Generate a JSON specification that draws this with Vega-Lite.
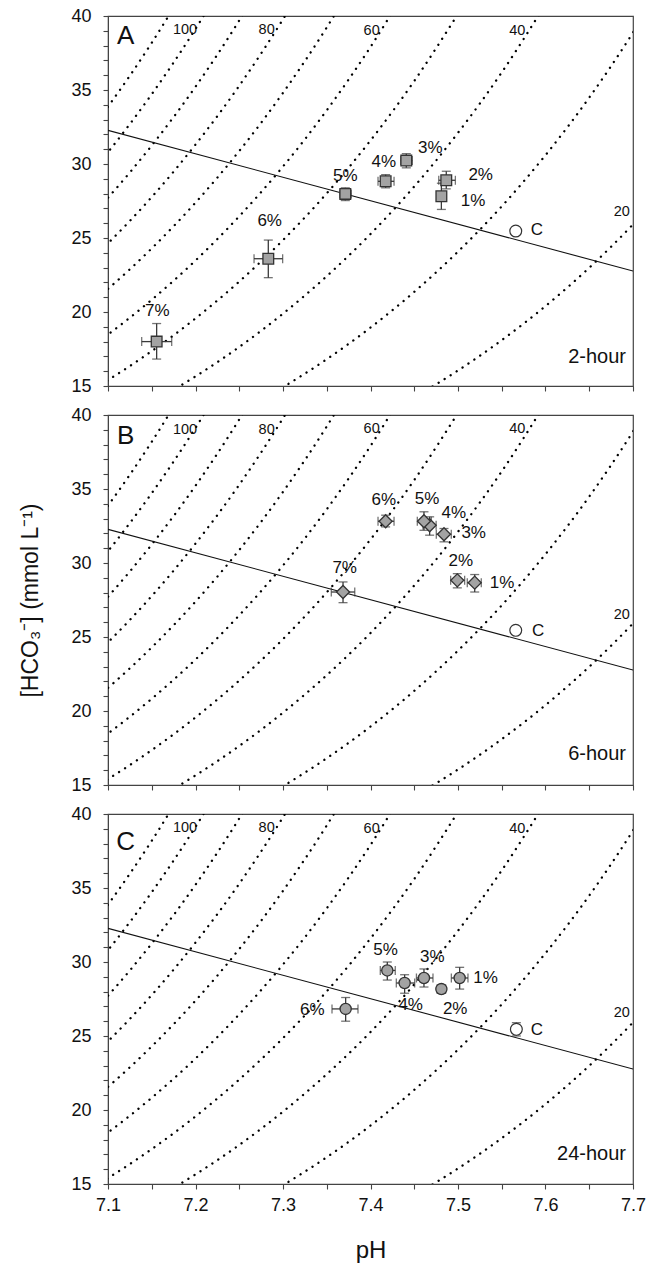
{
  "$schema": "https://vega.github.io/schema/vega-lite/v6.json",
  "padding": {"left": 19, "top": 6, "right": 10, "bottom": 0},
  "config": {
    "font": "Liberation Sans",
    "view": {"stroke": "#444", "strokeWidth": 1.2},
    "axis": {"domainColor": "#444", "tickColor": "#444", "labelColor": "#111", "titleColor": "#111", "grid": false, "titleFontWeight": "normal", "labelFlush": false, "tickWidth": 1.1},
    "text": {"color": "#111"}
  },
  "spacing": 29,
  "bounds": "flush",
  "datasets": {
    "iso": [
      {"p": 110, "pH": 7.05, "h": 30.06}, {"p": 110, "pH": 7.1, "h": 33.88}, {"p": 110, "pH": 7.15, "h": 38.19}, {"p": 110, "pH": 7.2, "h": 43.05},
      {"p": 100, "pH": 7.05, "h": 27.32}, {"p": 100, "pH": 7.1, "h": 30.8}, {"p": 100, "pH": 7.15, "h": 34.72}, {"p": 100, "pH": 7.2, "h": 39.13}, {"p": 100, "pH": 7.25, "h": 44.11},
      {"p": 90, "pH": 7.05, "h": 24.59}, {"p": 90, "pH": 7.1, "h": 27.72}, {"p": 90, "pH": 7.15, "h": 31.25}, {"p": 90, "pH": 7.2, "h": 35.22}, {"p": 90, "pH": 7.25, "h": 39.7}, {"p": 90, "pH": 7.3, "h": 44.75},
      {"p": 80, "pH": 7.05, "h": 21.86}, {"p": 80, "pH": 7.1, "h": 24.64}, {"p": 80, "pH": 7.15, "h": 27.77}, {"p": 80, "pH": 7.2, "h": 31.31}, {"p": 80, "pH": 7.25, "h": 35.29}, {"p": 80, "pH": 7.3, "h": 39.78}, {"p": 80, "pH": 7.35, "h": 44.84},
      {"p": 70, "pH": 7.05, "h": 19.13}, {"p": 70, "pH": 7.1, "h": 21.56}, {"p": 70, "pH": 7.15, "h": 24.3}, {"p": 70, "pH": 7.2, "h": 27.39}, {"p": 70, "pH": 7.25, "h": 30.88}, {"p": 70, "pH": 7.3, "h": 34.81}, {"p": 70, "pH": 7.35, "h": 39.23}, {"p": 70, "pH": 7.4, "h": 44.22},
      {"p": 60, "pH": 7.05, "h": 16.39}, {"p": 60, "pH": 7.1, "h": 18.48}, {"p": 60, "pH": 7.15, "h": 20.83}, {"p": 60, "pH": 7.2, "h": 23.48}, {"p": 60, "pH": 7.25, "h": 26.47}, {"p": 60, "pH": 7.3, "h": 29.83}, {"p": 60, "pH": 7.35, "h": 33.63}, {"p": 60, "pH": 7.4, "h": 37.91}, {"p": 60, "pH": 7.45, "h": 42.73},
      {"p": 50, "pH": 7.05, "h": 13.66}, {"p": 50, "pH": 7.1, "h": 15.4}, {"p": 50, "pH": 7.15, "h": 17.36}, {"p": 50, "pH": 7.2, "h": 19.57}, {"p": 50, "pH": 7.25, "h": 22.06}, {"p": 50, "pH": 7.3, "h": 24.86}, {"p": 50, "pH": 7.35, "h": 28.02}, {"p": 50, "pH": 7.4, "h": 31.59}, {"p": 50, "pH": 7.45, "h": 35.61}, {"p": 50, "pH": 7.5, "h": 40.14},
      {"p": 40, "pH": 7.15, "h": 13.89}, {"p": 40, "pH": 7.2, "h": 15.65}, {"p": 40, "pH": 7.25, "h": 17.64}, {"p": 40, "pH": 7.3, "h": 19.89}, {"p": 40, "pH": 7.35, "h": 22.42}, {"p": 40, "pH": 7.4, "h": 25.27}, {"p": 40, "pH": 7.45, "h": 28.48}, {"p": 40, "pH": 7.5, "h": 32.11}, {"p": 40, "pH": 7.55, "h": 36.19}, {"p": 40, "pH": 7.6, "h": 40.8},
      {"p": 30, "pH": 7.25, "h": 13.23}, {"p": 30, "pH": 7.3, "h": 14.92}, {"p": 30, "pH": 7.35, "h": 16.81}, {"p": 30, "pH": 7.4, "h": 18.95}, {"p": 30, "pH": 7.45, "h": 21.36}, {"p": 30, "pH": 7.5, "h": 24.08}, {"p": 30, "pH": 7.55, "h": 27.14}, {"p": 30, "pH": 7.6, "h": 30.6}, {"p": 30, "pH": 7.65, "h": 34.49}, {"p": 30, "pH": 7.7, "h": 38.88}, {"p": 30, "pH": 7.75, "h": 43.82},
      {"p": 20, "pH": 7.4, "h": 12.64}, {"p": 20, "pH": 7.45, "h": 14.24}, {"p": 20, "pH": 7.5, "h": 16.05}, {"p": 20, "pH": 7.55, "h": 18.1}, {"p": 20, "pH": 7.6, "h": 20.4}, {"p": 20, "pH": 7.65, "h": 22.99}, {"p": 20, "pH": 7.7, "h": 25.92}, {"p": 20, "pH": 7.75, "h": 29.21}
    ],
    "buf": [{"pH": 7.1, "h": 32.27}, {"pH": 7.7, "h": 22.77}],
    "pts": [
      {"panel": "A", "g": "1%", "pH": 7.481, "h": 27.82, "ylo": 26.93, "yhi": 28.7, "xlo": 7.477, "xhi": 7.485, "kind": "t"},
      {"panel": "A", "g": "2%", "pH": 7.4866, "h": 28.9, "ylo": 28.32, "yhi": 29.51, "xlo": 7.478, "xhi": 7.497, "kind": "t"},
      {"panel": "A", "g": "3%", "pH": 7.4409, "h": 30.23, "ylo": 29.74, "yhi": 30.7, "xlo": 7.4345, "xhi": 7.4478, "kind": "t"},
      {"panel": "A", "g": "4%", "pH": 7.4173, "h": 28.83, "ylo": 28.39, "yhi": 29.28, "xlo": 7.4086, "xhi": 7.4269, "kind": "t"},
      {"panel": "A", "g": "5%", "pH": 7.3712, "h": 27.98, "ylo": 27.53, "yhi": 28.39, "xlo": 7.3648, "xhi": 7.378, "kind": "t"},
      {"panel": "A", "g": "6%", "pH": 7.2832, "h": 23.6, "ylo": 22.32, "yhi": 24.86, "xlo": 7.2669, "xhi": 7.2996, "kind": "t"},
      {"panel": "A", "g": "7%", "pH": 7.1556, "h": 18.0, "ylo": 16.82, "yhi": 19.22, "xlo": 7.1385, "xhi": 7.1728, "kind": "t"},
      {"panel": "A", "g": "C", "pH": 7.566, "h": 25.47, "ylo": null, "yhi": null, "xlo": null, "xhi": null, "kind": "c"},
      {"panel": "B", "g": "1%", "pH": 7.5191, "h": 28.67, "ylo": 28.04, "yhi": 29.22, "xlo": 7.5106, "xhi": 7.5266, "kind": "t"},
      {"panel": "B", "g": "2%", "pH": 7.4992, "h": 28.83, "ylo": 28.32, "yhi": 29.28, "xlo": 7.4916, "xhi": 7.5076, "kind": "t"},
      {"panel": "B", "g": "3%", "pH": 7.484, "h": 31.94, "ylo": 31.43, "yhi": 32.33, "xlo": 7.4752, "xhi": 7.4923, "kind": "t"},
      {"panel": "B", "g": "4%", "pH": 7.4676, "h": 32.55, "ylo": 31.88, "yhi": 33.12, "xlo": 7.46, "xhi": 7.475, "kind": "t"},
      {"panel": "B", "g": "5%", "pH": 7.4611, "h": 32.82, "ylo": 32.21, "yhi": 33.46, "xlo": 7.4535, "xhi": 7.4695, "kind": "t"},
      {"panel": "B", "g": "6%", "pH": 7.4173, "h": 32.82, "ylo": 32.44, "yhi": 33.23, "xlo": 7.4086, "xhi": 7.4269, "kind": "t"},
      {"panel": "B", "g": "7%", "pH": 7.3686, "h": 28.04, "ylo": 27.32, "yhi": 28.72, "xlo": 7.3552, "xhi": 7.382, "kind": "t"},
      {"panel": "B", "g": "C", "pH": 7.566, "h": 25.45, "ylo": null, "yhi": null, "xlo": null, "xhi": null, "kind": "c"},
      {"panel": "C", "g": "1%", "pH": 7.5019, "h": 28.92, "ylo": 28.17, "yhi": 29.64, "xlo": 7.4924, "xhi": 7.5114, "kind": "t"},
      {"panel": "C", "g": "2%", "pH": 7.481, "h": 28.17, "ylo": 27.9, "yhi": 28.45, "xlo": 7.476, "xhi": 7.486, "kind": "t"},
      {"panel": "C", "g": "3%", "pH": 7.4611, "h": 28.92, "ylo": 28.31, "yhi": 29.53, "xlo": 7.4525, "xhi": 7.4714, "kind": "t"},
      {"panel": "C", "g": "4%", "pH": 7.439, "h": 28.58, "ylo": 27.89, "yhi": 29.14, "xlo": 7.4295, "xhi": 7.4505, "kind": "t"},
      {"panel": "C", "g": "5%", "pH": 7.4192, "h": 29.43, "ylo": 28.78, "yhi": 30.0, "xlo": 7.4112, "xhi": 7.4283, "kind": "t"},
      {"panel": "C", "g": "6%", "pH": 7.3716, "h": 26.83, "ylo": 26.0, "yhi": 27.6, "xlo": 7.356, "xhi": 7.3857, "kind": "t"},
      {"panel": "C", "g": "C", "pH": 7.5667, "h": 25.45, "ylo": 25.0, "yhi": 25.9, "xlo": 7.562, "xhi": 7.5714, "kind": "c"}
    ],
    "lab": [
      {"panel": "A", "kind": "pct", "text": "7%", "pH": 7.1564, "h": 20.05},
      {"panel": "A", "kind": "pct", "text": "6%", "pH": 7.2848, "h": 26.12},
      {"panel": "A", "kind": "pct", "text": "5%", "pH": 7.3712, "h": 29.17},
      {"panel": "A", "kind": "pct", "text": "4%", "pH": 7.4151, "h": 30.11},
      {"panel": "A", "kind": "pct", "text": "3%", "pH": 7.4683, "h": 31.08},
      {"panel": "A", "kind": "pct", "text": "2%", "pH": 7.5259, "h": 29.24},
      {"panel": "A", "kind": "pct", "text": "1%", "pH": 7.5171, "h": 27.49},
      {"panel": "A", "kind": "pct", "text": "C", "pH": 7.5903, "h": 25.56},
      {"panel": "A", "kind": "iso", "text": "100", "pH": 7.188, "h": 39.06},
      {"panel": "A", "kind": "iso", "text": "80", "pH": 7.2813, "h": 39.06},
      {"panel": "A", "kind": "iso", "text": "60", "pH": 7.4013, "h": 39.01},
      {"panel": "A", "kind": "iso", "text": "40", "pH": 7.5678, "h": 39.01},
      {"panel": "A", "kind": "iso", "text": "20", "pH": 7.6871, "h": 26.74},
      {"panel": "A", "kind": "letter", "text": "A", "pH": 7.1202, "h": 38.67},
      {"panel": "A", "kind": "time", "text": "2-hour", "pH": 7.692, "h": 16.95},
      {"panel": "B", "kind": "pct", "text": "6%", "pH": 7.4151, "h": 34.25},
      {"panel": "B", "kind": "pct", "text": "5%", "pH": 7.4646, "h": 34.31},
      {"panel": "B", "kind": "pct", "text": "4%", "pH": 7.4951, "h": 33.39},
      {"panel": "B", "kind": "pct", "text": "3%", "pH": 7.5179, "h": 32.04},
      {"panel": "B", "kind": "pct", "text": "2%", "pH": 7.5032, "h": 30.16},
      {"panel": "B", "kind": "pct", "text": "1%", "pH": 7.5503, "h": 28.65},
      {"panel": "B", "kind": "pct", "text": "7%", "pH": 7.3705, "h": 29.64},
      {"panel": "B", "kind": "pct", "text": "C", "pH": 7.5916, "h": 25.42},
      {"panel": "B", "kind": "iso", "text": "100", "pH": 7.188, "h": 38.98},
      {"panel": "B", "kind": "iso", "text": "80", "pH": 7.2813, "h": 38.98},
      {"panel": "B", "kind": "iso", "text": "60", "pH": 7.4013, "h": 39.05},
      {"panel": "B", "kind": "iso", "text": "40", "pH": 7.5678, "h": 39.05},
      {"panel": "B", "kind": "iso", "text": "20", "pH": 7.6871, "h": 26.5},
      {"panel": "B", "kind": "letter", "text": "B", "pH": 7.1202, "h": 38.6},
      {"panel": "B", "kind": "time", "text": "6-hour", "pH": 7.692, "h": 17.1},
      {"panel": "C", "kind": "pct", "text": "5%", "pH": 7.4173, "h": 30.84},
      {"panel": "C", "kind": "pct", "text": "3%", "pH": 7.4706, "h": 30.36},
      {"panel": "C", "kind": "pct", "text": "1%", "pH": 7.5316, "h": 28.89},
      {"panel": "C", "kind": "pct", "text": "4%", "pH": 7.4459, "h": 27.1},
      {"panel": "C", "kind": "pct", "text": "2%", "pH": 7.4968, "h": 26.85},
      {"panel": "C", "kind": "pct", "text": "6%", "pH": 7.3335, "h": 26.74},
      {"panel": "C", "kind": "pct", "text": "C", "pH": 7.5903, "h": 25.43},
      {"panel": "C", "kind": "iso", "text": "100", "pH": 7.188, "h": 39.03},
      {"panel": "C", "kind": "iso", "text": "80", "pH": 7.2813, "h": 39.03},
      {"panel": "C", "kind": "iso", "text": "60", "pH": 7.4013, "h": 39.0},
      {"panel": "C", "kind": "iso", "text": "40", "pH": 7.5678, "h": 39.0},
      {"panel": "C", "kind": "iso", "text": "20", "pH": 7.6871, "h": 26.54},
      {"panel": "C", "kind": "letter", "text": "C", "pH": 7.1202, "h": 38.08},
      {"panel": "C", "kind": "time", "text": "24-hour", "pH": 7.692, "h": 17.04}
    ]
  },
  "vconcat": [
    {
      "width": 525, "height": 370,
      "encoding": {
        "x": {"field": "pH", "type": "quantitative", "title": null, "scale": {"domain": [7.1, 7.7], "nice": false, "zero": false}, "axis": {"values": [7.1, 7.15, 7.2, 7.25, 7.3, 7.35, 7.4, 7.45, 7.5, 7.55, 7.6, 7.65, 7.7], "labels": false, "tickSize": 5}},
        "y": {"field": "h", "type": "quantitative", "title": null, "scale": {"domain": [15, 40], "nice": false, "zero": false}, "axis": {"values": [15, 16, 17, 18, 19, 20, 21, 22, 23, 24, 25, 26, 27, 28, 29, 30, 31, 32, 33, 34, 35, 36, 37, 38, 39, 40], "labelExpr": "datum.value % 5 === 0 ? datum.label : ''", "tickSize": 5, "labelFontSize": 18, "labelPadding": 12}}
      },
      "layer": [
        {"data": {"name": "iso"}, "mark": {"type": "line", "clip": true, "interpolate": "monotone", "strokeDash": [0.1, 7], "strokeCap": "round", "strokeWidth": 2.3, "color": "#000"},
         "encoding": {"detail": {"field": "p"}}},
        {"data": {"name": "buf"}, "mark": {"type": "line", "clip": true, "color": "#111", "strokeWidth": 1.1}, "encoding": {}},
        {"data": {"name": "pts"}, "transform": [{"filter": "datum.panel === 'A' && datum.ylo != null"}], "mark": {"type": "rule", "color": "#3a3a3a", "strokeWidth": 1.3},
         "encoding": {"y": {"field": "ylo", "type": "quantitative", "title": null}, "y2": {"field": "yhi"}}},
        {"data": {"name": "pts"}, "transform": [{"filter": "datum.panel === 'A' && datum.ylo != null"}, {"fold": ["ylo", "yhi"], "as": ["k", "v"]}], "mark": {"type": "tick", "orient": "horizontal", "color": "#3a3a3a", "thickness": 1.3, "size": 9},
         "encoding": {"y": {"field": "v", "type": "quantitative", "title": null}}},
        {"data": {"name": "pts"}, "transform": [{"filter": "datum.panel === 'A' && datum.xlo != null"}], "mark": {"type": "rule", "color": "#3a3a3a", "strokeWidth": 1.3},
         "encoding": {"x": {"field": "xlo", "type": "quantitative", "title": null}, "x2": {"field": "xhi"}}},
        {"data": {"name": "pts"}, "transform": [{"filter": "datum.panel === 'A' && datum.xlo != null"}, {"fold": ["xlo", "xhi"], "as": ["k", "v"]}], "mark": {"type": "tick", "orient": "vertical", "color": "#3a3a3a", "thickness": 1.3, "size": 9},
         "encoding": {"x": {"field": "v", "type": "quantitative", "title": null}}},
        {"data": {"name": "pts"}, "transform": [{"filter": "datum.panel === 'A' && datum.kind === 't'"}], "mark": {"type": "point", "shape": "square", "filled": true, "fill": "#a3a3a3", "stroke": "#333", "strokeWidth": 1.3, "size": 115, "opacity": 1}, "encoding": {}},
        {"data": {"name": "pts"}, "transform": [{"filter": "datum.panel === 'A' && datum.kind === 'c'"}], "mark": {"type": "point", "shape": "circle", "filled": true, "fill": "#fff", "stroke": "#333", "strokeWidth": 1.2, "size": 140, "opacity": 1}, "encoding": {}},
        {"data": {"name": "lab"}, "transform": [{"filter": "datum.panel === 'A' && datum.kind === 'pct'"}], "mark": {"type": "text", "fontSize": 17, "align": "center", "baseline": "middle"}, "encoding": {"text": {"field": "text"}}},
        {"data": {"name": "lab"}, "transform": [{"filter": "datum.panel === 'A' && datum.kind === 'iso'"}], "mark": {"type": "text", "fontSize": 14.5, "align": "center", "baseline": "middle"}, "encoding": {"text": {"field": "text"}}},
        {"data": {"name": "lab"}, "transform": [{"filter": "datum.panel === 'A' && datum.kind === 'letter'"}], "mark": {"type": "text", "fontSize": 26, "align": "center", "baseline": "middle"}, "encoding": {"text": {"field": "text"}}},
        {"data": {"name": "lab"}, "transform": [{"filter": "datum.panel === 'A' && datum.kind === 'time'"}], "mark": {"type": "text", "fontSize": 20, "align": "right", "baseline": "middle"}, "encoding": {"text": {"field": "text"}}}
      ]
    },
    {
      "width": 525, "height": 370,
      "encoding": {
        "x": {"field": "pH", "type": "quantitative", "title": null, "scale": {"domain": [7.1, 7.7], "nice": false, "zero": false}, "axis": {"values": [7.1, 7.15, 7.2, 7.25, 7.3, 7.35, 7.4, 7.45, 7.5, 7.55, 7.6, 7.65, 7.7], "labels": false, "tickSize": 5}},
        "y": {"field": "h", "type": "quantitative", "title": "[HCO₃⁻] (mmol L⁻¹)", "scale": {"domain": [15, 40], "nice": false, "zero": false}, "axis": {"values": [15, 16, 17, 18, 19, 20, 21, 22, 23, 24, 25, 26, 27, 28, 29, 30, 31, 32, 33, 34, 35, 36, 37, 38, 39, 40], "labelExpr": "datum.value % 5 === 0 ? datum.label : ''", "tickSize": 5, "labelFontSize": 18, "labelPadding": 12, "titleFontSize": 23, "titlePadding": 28}}
      },
      "layer": [
        {"data": {"name": "iso"}, "mark": {"type": "line", "clip": true, "interpolate": "monotone", "strokeDash": [0.1, 7], "strokeCap": "round", "strokeWidth": 2.3, "color": "#000"},
         "encoding": {"detail": {"field": "p"}}},
        {"data": {"name": "buf"}, "mark": {"type": "line", "clip": true, "color": "#111", "strokeWidth": 1.1}, "encoding": {}},
        {"data": {"name": "pts"}, "transform": [{"filter": "datum.panel === 'B' && datum.ylo != null"}], "mark": {"type": "rule", "color": "#3a3a3a", "strokeWidth": 1.3},
         "encoding": {"y": {"field": "ylo", "type": "quantitative", "title": "[HCO₃⁻] (mmol L⁻¹)"}, "y2": {"field": "yhi"}}},
        {"data": {"name": "pts"}, "transform": [{"filter": "datum.panel === 'B' && datum.ylo != null"}, {"fold": ["ylo", "yhi"], "as": ["k", "v"]}], "mark": {"type": "tick", "orient": "horizontal", "color": "#3a3a3a", "thickness": 1.3, "size": 9},
         "encoding": {"y": {"field": "v", "type": "quantitative", "title": "[HCO₃⁻] (mmol L⁻¹)"}}},
        {"data": {"name": "pts"}, "transform": [{"filter": "datum.panel === 'B' && datum.xlo != null"}], "mark": {"type": "rule", "color": "#3a3a3a", "strokeWidth": 1.3},
         "encoding": {"x": {"field": "xlo", "type": "quantitative", "title": null}, "x2": {"field": "xhi"}}},
        {"data": {"name": "pts"}, "transform": [{"filter": "datum.panel === 'B' && datum.xlo != null"}, {"fold": ["xlo", "xhi"], "as": ["k", "v"]}], "mark": {"type": "tick", "orient": "vertical", "color": "#3a3a3a", "thickness": 1.3, "size": 9},
         "encoding": {"x": {"field": "v", "type": "quantitative", "title": null}}},
        {"data": {"name": "pts"}, "transform": [{"filter": "datum.panel === 'B' && datum.kind === 't'"}], "mark": {"type": "point", "shape": "diamond", "filled": true, "fill": "#a3a3a3", "stroke": "#333", "strokeWidth": 1.3, "size": 170, "opacity": 1}, "encoding": {}},
        {"data": {"name": "pts"}, "transform": [{"filter": "datum.panel === 'B' && datum.kind === 'c'"}], "mark": {"type": "point", "shape": "circle", "filled": true, "fill": "#fff", "stroke": "#333", "strokeWidth": 1.2, "size": 140, "opacity": 1}, "encoding": {}},
        {"data": {"name": "lab"}, "transform": [{"filter": "datum.panel === 'B' && datum.kind === 'pct'"}], "mark": {"type": "text", "fontSize": 17, "align": "center", "baseline": "middle"}, "encoding": {"text": {"field": "text"}}},
        {"data": {"name": "lab"}, "transform": [{"filter": "datum.panel === 'B' && datum.kind === 'iso'"}], "mark": {"type": "text", "fontSize": 14.5, "align": "center", "baseline": "middle"}, "encoding": {"text": {"field": "text"}}},
        {"data": {"name": "lab"}, "transform": [{"filter": "datum.panel === 'B' && datum.kind === 'letter'"}], "mark": {"type": "text", "fontSize": 26, "align": "center", "baseline": "middle"}, "encoding": {"text": {"field": "text"}}},
        {"data": {"name": "lab"}, "transform": [{"filter": "datum.panel === 'B' && datum.kind === 'time'"}], "mark": {"type": "text", "fontSize": 20, "align": "right", "baseline": "middle"}, "encoding": {"text": {"field": "text"}}}
      ]
    },
    {
      "width": 525, "height": 370,
      "encoding": {
        "x": {"field": "pH", "type": "quantitative", "title": "pH", "scale": {"domain": [7.1, 7.7], "nice": false, "zero": false}, "axis": {"values": [7.1, 7.15, 7.2, 7.25, 7.3, 7.35, 7.4, 7.45, 7.5, 7.55, 7.6, 7.65, 7.7], "labelExpr": "round(datum.value * 100) % 10 === 0 ? format(datum.value, '.1f') : ''", "tickSize": 5, "labelFontSize": 18, "labelPadding": 7, "titleFontSize": 24, "titlePadding": 24}},
        "y": {"field": "h", "type": "quantitative", "title": null, "scale": {"domain": [15, 40], "nice": false, "zero": false}, "axis": {"values": [15, 16, 17, 18, 19, 20, 21, 22, 23, 24, 25, 26, 27, 28, 29, 30, 31, 32, 33, 34, 35, 36, 37, 38, 39, 40], "labelExpr": "datum.value % 5 === 0 ? datum.label : ''", "tickSize": 5, "labelFontSize": 18, "labelPadding": 12}}
      },
      "layer": [
        {"data": {"name": "iso"}, "mark": {"type": "line", "clip": true, "interpolate": "monotone", "strokeDash": [0.1, 7], "strokeCap": "round", "strokeWidth": 2.3, "color": "#000"},
         "encoding": {"detail": {"field": "p"}}},
        {"data": {"name": "buf"}, "mark": {"type": "line", "clip": true, "color": "#111", "strokeWidth": 1.1}, "encoding": {}},
        {"data": {"name": "pts"}, "transform": [{"filter": "datum.panel === 'C' && datum.ylo != null"}], "mark": {"type": "rule", "color": "#3a3a3a", "strokeWidth": 1.3},
         "encoding": {"y": {"field": "ylo", "type": "quantitative", "title": null}, "y2": {"field": "yhi"}}},
        {"data": {"name": "pts"}, "transform": [{"filter": "datum.panel === 'C' && datum.ylo != null"}, {"fold": ["ylo", "yhi"], "as": ["k", "v"]}], "mark": {"type": "tick", "orient": "horizontal", "color": "#3a3a3a", "thickness": 1.3, "size": 9},
         "encoding": {"y": {"field": "v", "type": "quantitative", "title": null}}},
        {"data": {"name": "pts"}, "transform": [{"filter": "datum.panel === 'C' && datum.xlo != null"}], "mark": {"type": "rule", "color": "#3a3a3a", "strokeWidth": 1.3},
         "encoding": {"x": {"field": "xlo", "type": "quantitative", "title": "pH"}, "x2": {"field": "xhi"}}},
        {"data": {"name": "pts"}, "transform": [{"filter": "datum.panel === 'C' && datum.xlo != null"}, {"fold": ["xlo", "xhi"], "as": ["k", "v"]}], "mark": {"type": "tick", "orient": "vertical", "color": "#3a3a3a", "thickness": 1.3, "size": 9},
         "encoding": {"x": {"field": "v", "type": "quantitative", "title": "pH"}}},
        {"data": {"name": "pts"}, "transform": [{"filter": "datum.panel === 'C' && datum.kind === 't'"}], "mark": {"type": "point", "shape": "circle", "filled": true, "fill": "#a3a3a3", "stroke": "#333", "strokeWidth": 1.3, "size": 125, "opacity": 1}, "encoding": {}},
        {"data": {"name": "pts"}, "transform": [{"filter": "datum.panel === 'C' && datum.kind === 'c'"}], "mark": {"type": "point", "shape": "circle", "filled": true, "fill": "#fff", "stroke": "#333", "strokeWidth": 1.2, "size": 140, "opacity": 1}, "encoding": {}},
        {"data": {"name": "lab"}, "transform": [{"filter": "datum.panel === 'C' && datum.kind === 'pct'"}], "mark": {"type": "text", "fontSize": 17, "align": "center", "baseline": "middle"}, "encoding": {"text": {"field": "text"}}},
        {"data": {"name": "lab"}, "transform": [{"filter": "datum.panel === 'C' && datum.kind === 'iso'"}], "mark": {"type": "text", "fontSize": 14.5, "align": "center", "baseline": "middle"}, "encoding": {"text": {"field": "text"}}},
        {"data": {"name": "lab"}, "transform": [{"filter": "datum.panel === 'C' && datum.kind === 'letter'"}], "mark": {"type": "text", "fontSize": 26, "align": "center", "baseline": "middle"}, "encoding": {"text": {"field": "text"}}},
        {"data": {"name": "lab"}, "transform": [{"filter": "datum.panel === 'C' && datum.kind === 'time'"}], "mark": {"type": "text", "fontSize": 20, "align": "right", "baseline": "middle"}, "encoding": {"text": {"field": "text"}}}
      ]
    }
  ]
}
